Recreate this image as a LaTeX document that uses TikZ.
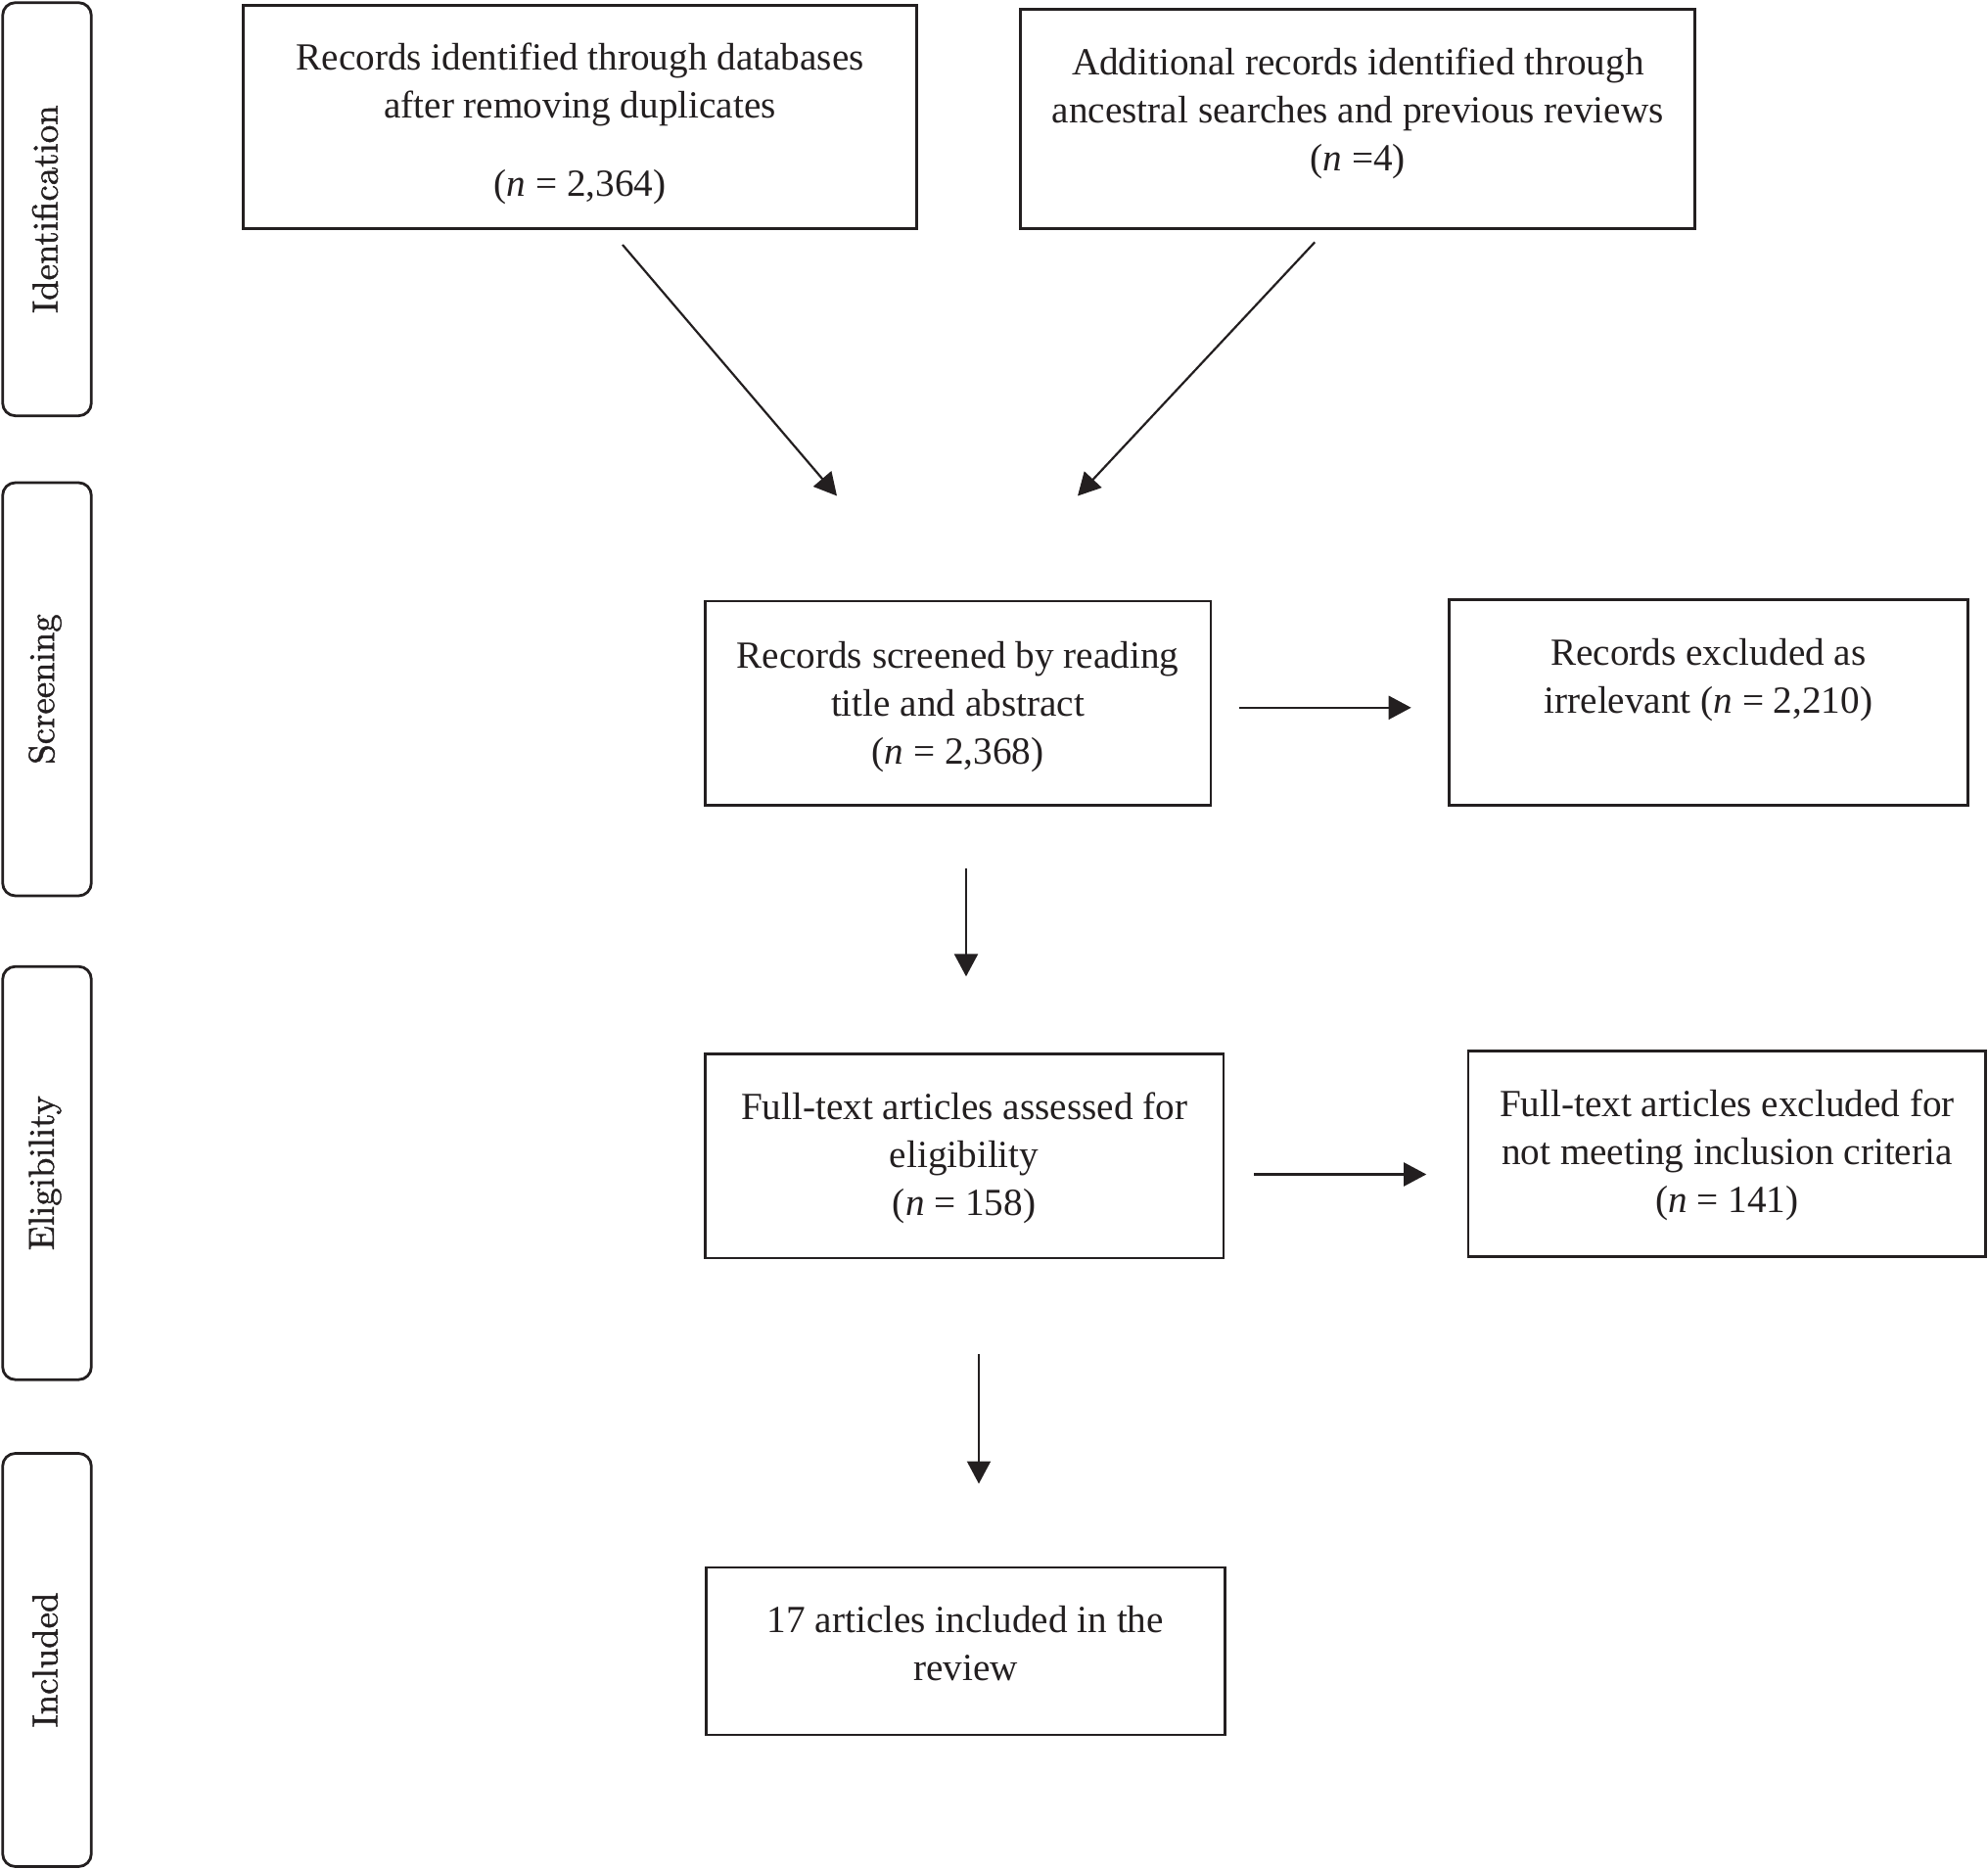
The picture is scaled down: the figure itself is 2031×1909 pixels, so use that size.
\documentclass[tikz,border=0pt]{standalone}
\usepackage{fontspec}
\newfontfamily\tnr{Liberation Serif}
\newfontfamily\sidefont{lmroman10-regular.otf}[FakeBold=1.2]
\usetikzlibrary{arrows.meta}
\definecolor{ink}{HTML}{231F20}
\tikzset{
  box/.style={draw=ink, line width=1.4pt, inner sep=0pt, outer sep=0pt, align=center,
    font=\tnr\fontsize{19.6pt}{24.5pt}\selectfont, text=ink},
  phase/.style={draw=ink, line width=1.4pt, rounded corners=6.5pt, inner sep=0pt, outer sep=0pt,
    minimum width=45.3pt, minimum height=211pt},
  phaselabel/.style={rotate=90, font=\sidefont\fontsize{18.4pt}{22pt}\selectfont, text=ink},
  arr/.style={draw=ink, line width=1.1pt, -{Triangle[length=11.5pt, width=12pt]}}
}
\begin{document}
\begin{tikzpicture}[x=0.5pt, y=-0.5pt]
\useasboundingbox (0,0) rectangle (2031,1909);
% phase bars
\node[phase] (pid) at (48,213.7) {};
\node[phaselabel] (pidt) at (46,213.7) {Identification};
\node[phase] (psc) at (48,704) {};
\node[phaselabel] (psct) at (46,704) {Screening};
\node[phase] (pel) at (48,1198.2) {};
\node[phaselabel] (pelt) at (46,1198.2) {Eligibility};
\node[phase] (pin) at (48,1695.5) {};
\node[phaselabel] (pint) at (46,1695.5) {Included};
% boxes
\node[box, minimum width=343.9pt, minimum height=114pt] (b1) at (592.6,119.2)
  {\mbox{}\\[-3.2pt]Records identified through databases\\after removing duplicates\\[15.5pt](\textit{n} = 2,364)};
\node[box, minimum width=344.5pt, minimum height=112pt] (b2) at (1387.3,121.2)
  {Additional records identified through\\ancestral searches and previous reviews\\(\textit{n} =4)\\[-15.5pt]\mbox{}};
\node[box, minimum width=258.4pt, minimum height=104.3pt] (b3) at (978.6,718.3)
  {\mbox{}\\[-7.1pt]Records screened by reading\\title and abstract\\(\textit{n} = 2,368)};
\node[box, minimum width=264.9pt, minimum height=104.9pt] (b4) at (1745.4,717.6)
  {Records excluded as\\irrelevant (\textit{n} = 2,210)\\[2.5pt]\mbox{}};
\node[box, minimum width=264.9pt, minimum height=104.3pt] (b5) at (985.1,1180.7)
  {\mbox{}\\[-8.4pt]Full-text articles assessed for\\eligibility\\(\textit{n} = 158)};
\node[box, minimum width=264.4pt, minimum height=105pt] (b6) at (1764.4,1178.8)
  {\mbox{}\\[-9.7pt]Full-text articles excluded for\\not meeting inclusion criteria\\(\textit{n} = 141)};
\node[box, minimum width=264.9pt, minimum height=85.5pt] (b7) at (986.4,1686.5)
  {17 articles included in the\\review\\[-16.5pt]\mbox{}};
% arrow end points
\coordinate (a1s) at (636,250);
\coordinate (a1e) at (855,506.5);
\coordinate (a2s) at (1343.2,247.4);
\coordinate (a2e) at (1101,506.5);
\coordinate (a3s) at (1265.5,722.8);
\coordinate (a3e) at (1441.7,722.8);
\coordinate (a4s) at (987,887.3);
\coordinate (a4e) at (987,997.4);
\coordinate (a5s) at (1281,1199.5);
\coordinate (a5e) at (1457.2,1199.5);
\coordinate (a6s) at (1000,1383.4);
\coordinate (a6e) at (1000,1515.5);
\draw[arr] (a1s) -- (a1e);
\draw[arr] (a2s) -- (a2e);
\draw[arr] (a3s) -- (a3e);
\draw[arr] (a4s) -- (a4e);
\draw[arr] (a5s) -- (a5e);
\draw[arr] (a6s) -- (a6e);
\end{tikzpicture}
\end{document}
